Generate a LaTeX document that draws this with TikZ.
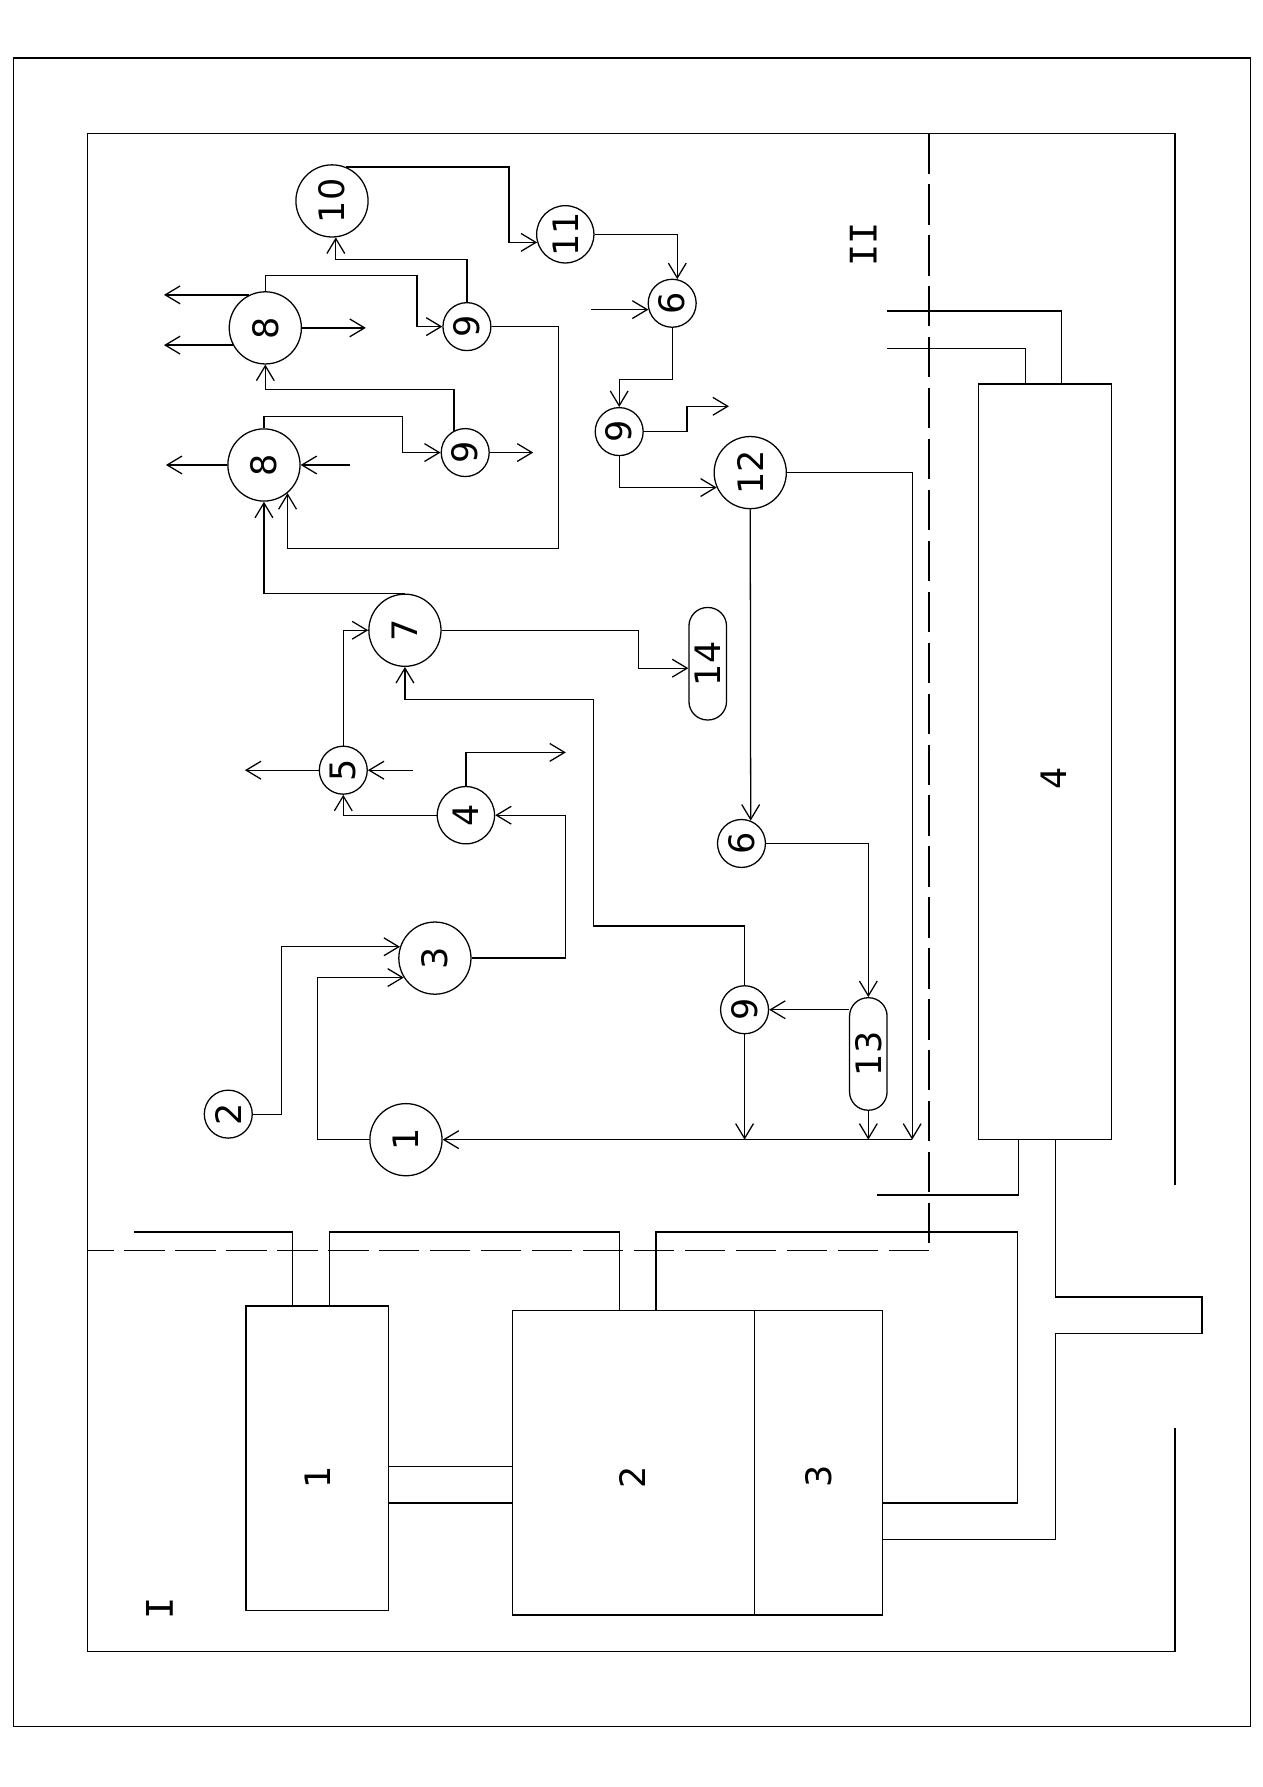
\documentclass[tikz,border=0pt]{standalone}
\usepackage{fontspec}
\usepackage{graphicx}
\newfontfamily\dmono{DejaVu Sans Mono}
\newfontfamily\dsans{DejaVu Sans}
\usetikzlibrary{arrows.meta,calc}
\newcommand\rtx[1]{\rotatebox{90}{#1}}
\begin{document}
\begin{tikzpicture}[x=0.537pt,y=-0.537pt,
  line width=0.6pt,
  arr/.style={-{Straight Barb[length=7pt,width=8.4pt]}},
  rarr/.style={{Straight Barb[length=7pt,width=8.4pt]}-},
  big/.style={circle,draw,inner sep=0pt,minimum size=34pt},
  mid/.style={circle,draw,inner sep=0pt,minimum size=27pt},
  sml/.style={circle,draw,inner sep=0pt,minimum size=22.6pt},
  caps/.style={rectangle,draw,rounded corners=8.7pt,inner sep=0pt,minimum width=17.7pt,minimum height=53pt},
  box/.style={rectangle,draw,inner sep=0pt},
  lbl/.style={inner sep=0pt},
  roman/.style={inner sep=0pt,font=\dmono\fontsize{17.3}{17.3}\selectfont},
  font=\dsans\fontsize{16.5}{16.5}\selectfont,
  dashv/.style={line width=1.1pt,dash pattern=on 19pt off 5pt},
  dashh/.style={line width=0.6pt,dash pattern=on 19pt off 5pt}
]
\useasboundingbox (0,0) rectangle (1108,1568);

% frames
\draw (12,51) rectangle (1097,1515);
\draw (1031,1040) -- (1031,117) -- (77,117) -- (77,1449) -- (1031,1449) -- (1031,1253);
\draw[dashv] (815,117) -- (815,1097);
\draw[dashh] (815,1097) -- (77,1097);

% plant boxes
\node[box,minimum width=67.2pt,minimum height=143.4pt] (b1) at (278.35,1279.5) {};
\node[box,minimum width=113.8pt,minimum height=143.4pt] (b2) at (555.75,1283.5) {};
\node[box,minimum width=60.5pt,minimum height=143.4pt] (b3) at (718.05,1283.5) {};
\node[box,minimum width=62.8pt,minimum height=356pt] (b4) at (917.05,668.5) {};
\node[lbl] (t1) at (279,1296) {\rtx{1}};
\node[lbl] (t2) at (555,1296) {\rtx{2}};
\node[lbl] (t3) at (718,1295) {\rtx{3}};
\node[lbl] (t4) at (925,683) {\rtx{4}};
\node[roman] (tI) at (140,1411) {\rtx{I}};
\node[roman] (tII) at (757.4,214.4) {\rtx{II}};

% pipes
\draw (b1.east |- 0,1286.7) -- (b2.west |- 0,1286.7);
\draw (b1.east |- 0,1318.8) -- (b2.west |- 0,1318.8);
\draw (b1.north -| 256.4,0) -- (256.4,1081) -- (117.5,1081);
\draw (b1.north -| 289,0) |- (543.5,1081) -- (b2.north -| 543.5,0);
\draw (b3.east |- 0,1318.8) -| (893,1081) -| (b2.north -| 575.6,0);
\draw (b3.east |- 0,1351) -| (926,1170) -- (1054.6,1170) -- (1054.6,1138) -- (926,1138) -- (b4.south -| 926,0);
\draw (b4.south -| 893.6,0) |- (769.6,1048.5);
\draw (b4.north -| 900,0) |- (778,305.5);
\draw (b4.north -| 931.7,0) |- (778,273);

% process nodes
\node[big] (c1) at (356.2,1000) {\rtx{1}};
\node[sml] (c2) at (200.3,977.6) {\rtx{2}};
\node[big] (c3) at (381.6,840.7) {\rtx{3}};
\node[mid] (c4) at (408.8,715.3) {\rtx{4}};
\node[sml] (c5) at (301.2,675.8) {\rtx{5}};
\node[big] (c7) at (355.3,553) {\rtx{7}};
\node[big] (c8a) at (231.6,408) {\rtx{8}};
\node[big] (c8b) at (232.8,287.7) {\rtx{8}};
\node[sml] (c9a) at (409.7,286.6) {\rtx{9}};
\node[sml] (c9b) at (408.2,397.1) {\rtx{9}};
\node[big] (c10) at (291.3,176.3) {\rtx{10}};
\node[mid] (c11) at (496,205.6) {\rtx{11}};
\node[sml] (c6a) at (589.8,266.1) {\rtx{6}};
\node[sml] (c9c) at (543.3,378.7) {\rtx{9}};
\node[big] (c12) at (658.3,414.7) {\rtx{12}};
\node[sml] (c6b) at (650.6,740.1) {\rtx{6}};
\node[sml] (c9d) at (653.3,886) {\rtx{9}};
\node[caps] (k14) at (621,582.4) {\rtx{14}};
\node[caps] (k13) at (761.9,924.8) {\rtx{13}};
\coordinate (mR) at (800.4,1000);

% connectors
\draw[arr] (c10.67) -| (446.7,0 |- c11.196) -- (c11.196);
\draw[arr] (c11.east) -| (c6a.78);
\draw[rarr] (c6a.195) -- (c6a.195 -| 519,0);
\draw[arr] (c6a.south) -- ++(0,45) -| (c9c.north);
\draw[arr] (c9c.east) -| ++(37.8,-22.2) -- ++(36.9,0);
\draw[arr] (c9c.south) |- (c12.204);
\draw[arr] (c12.east) -| (mR);
\draw[arr] (mR) -- (c1.east);
\draw[arr] (c12.south) -- (c6b.68);
\draw[arr] (c6b.east) -| (k13.north);
\draw[arr] (c9d.east -| k13.west) -- (c9d.east);
\draw[arr] (k13.south) -- (k13.south |- mR);
\draw[arr] (c9d.south) -- (c9d.south |- mR);
\draw[arr] (c9d.north) |- (520.5,812.6) |- (355.3,613.5) -- (c7.south);
\draw[arr] (c7.east) -| (560,586.3) -- (k14.west |- 0,586.3);
\draw[arr] (c7.north) -| (c8a.south);
\draw[arr] (c5.north) |- (c7.west);
\draw[arr] (c5.west) -- ++(-64.7,0);
\draw[rarr] (c5.east) -- ++(39.5,0);
\draw[arr] (c4.west) -| (c5.south);
\draw[arr] (c4.north) |- ++(87.7,-29.4);
\draw[arr] (c3.east) -| (496,715.3) -- (c4.east);
\draw[arr] (c2.east) -| (246.8,0 |- c3.162) -- (c3.162);
\draw[arr] (c1.west) -| (278.4,0 |- c3.212) -- (c3.212);
\draw[arr] (c8b.116) -- (c8b.116 -| 143.9,0);
\draw[arr] (c8b.208) -- (c8b.208 -| 143.9,0);
\draw[arr] (c8b.east) -- (c8b.east -| 321,0);
\draw[arr] (c8b.north) |- (365.8,241.5) |- (c9a.west);
\draw[arr] (c9a.north) -- ++(0,-37.3) -| (c10.276);
\draw[arr] (c9a.east) -| (489.8,481) -| (c8a.310);
\draw[arr] (c9b.117) -- (c9b.117 |- 0,341.5) -| (c8b.south);
\draw[arr] (c8a.north) |- (353.2,365.5) |- (c9b.west);
\draw[arr] (c9b.east) -- (c9b.east -| 467.9,0);
\draw[arr] (c8a.west) -- (c8a.west -| 145.6,0);
\draw[rarr] (c8a.east) -- (c8a.east -| 307,0);
\end{tikzpicture}
\end{document}
